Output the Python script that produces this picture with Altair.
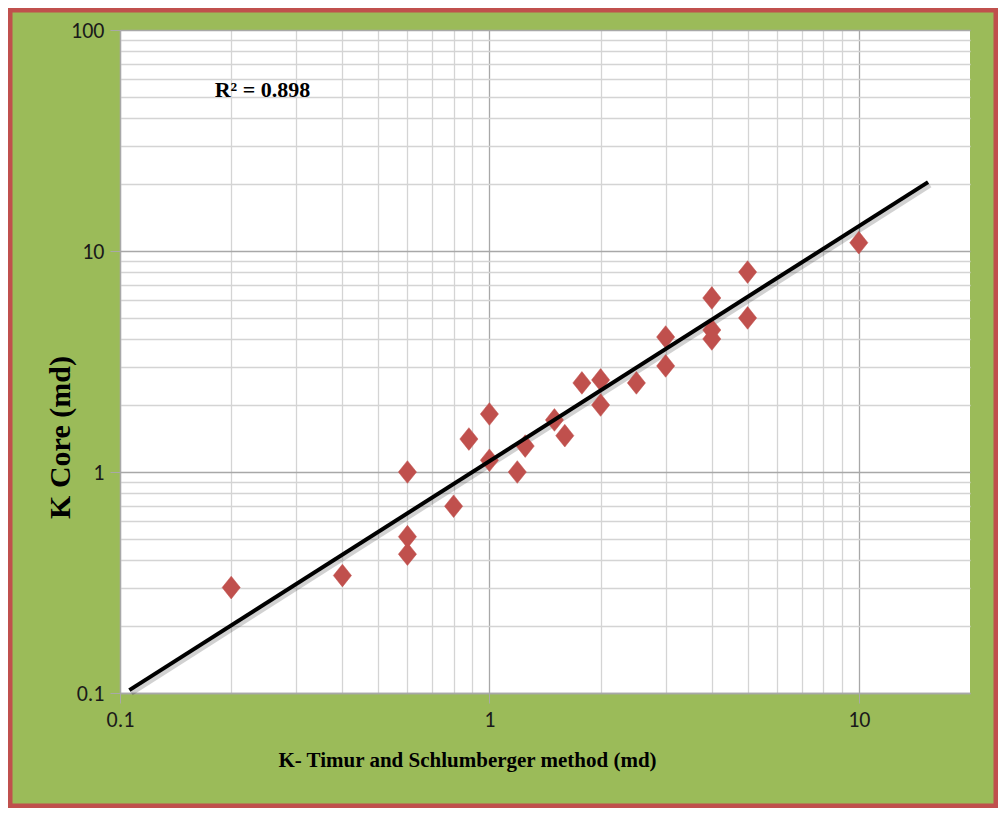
import altair as alt
import pandas as pd

# Data
k_timur = [0.2, 0.4, 0.6, 0.6, 0.6, 0.8, 0.88, 1.0, 1.0, 1.19, 1.25, 1.5, 1.6,
           1.78, 2.0, 2.0, 2.5, 3.0, 3.0, 4.0, 4.0, 4.0, 5.0, 5.0, 10.0]
k_core = [0.30, 0.34, 1.0, 0.51, 0.425, 0.70, 1.41, 1.83, 1.13, 1.0, 1.31, 1.72, 1.46,
          2.53, 2.61, 2.01, 2.53, 4.08, 3.02, 6.13, 4.39, 4.0, 8.03, 4.98, 10.9]

fit_x = [0.106, 15.4]
fit_y = [0.103, 20.5]

x_ticks = [0.1, 0.2, 0.3, 0.4, 0.5, 0.6, 0.7, 0.8, 0.9,
           1, 2, 3, 4, 5, 6, 7, 8, 9, 10]
y_ticks = [0.1, 0.2, 0.3, 0.4, 0.5, 0.6, 0.7, 0.8, 0.9,
           1, 2, 3, 4, 5, 6, 7, 8, 9, 10,
           20, 30, 40, 50, 60, 70, 80, 90, 100]

annot_text = ["R\u00b2 = 0.898"]
annot_x = [0.243]
annot_y = [50]

pts = pd.DataFrame({"x": k_timur, "y": k_core})
fit = pd.DataFrame({"x": fit_x, "y": fit_y})
ann = pd.DataFrame({"x": annot_x, "y": annot_y, "t": annot_text})

W, H = 850, 663
PL, PT, PR, PB = 112, 22, 28, 115

GREEN = "#9BBB59"
RED = "#C0504D"
TICK_FONT = "Carlito, 'Liberation Sans Narrow', Roboto, sans-serif"
TITLE_FONT = "'Liberation Serif', 'Times New Roman', serif"

major = "abs(log(datum.value)/LN10 - round(log(datum.value)/LN10)) < 0.001"

def make_axis(values, title, tx, ty, angle):
    return alt.Axis(
        values=values,
        title=title,
        labelExpr=f"({major}) ? format(datum.value, '~g') : ''",
        labelFont=TICK_FONT,
        labelFontSize=22,
        labelColor="#1a1a1a",
        labelPadding=6,
        labelFlush=False,
        labelOverlap=False,
        gridColor={"condition": {"test": major, "value": "#A8A8A8"}, "value": "#D4D4D4"},
        gridWidth=1.3,
        tickColor="#A8A8A8",
        tickOpacity={"condition": {"test": major, "value": 1}, "value": 0},
        tickSize=10,
        domainColor="#A8A8A8",
        domainWidth=1.3,
        titleFont=TITLE_FONT,
        titleFontWeight="bold",
        titleColor="#000000",
        titleFontSize=21 if angle == 0 else 30,
        titleX=tx,
        titleY=ty,
        titleAngle=angle,
        titleAlign="center",
        titleBaseline="middle",
    )

xscale = alt.Scale(type="log", domain=[0.1, 20], nice=False)
yscale = alt.Scale(type="log", domain=[0.1, 100], nice=False)

xenc = alt.X("x:Q", scale=xscale,
             axis=make_axis(x_ticks, "K- Timur  and Schlumberger  method (md)", 347, 67, 0))
yenc = alt.Y("y:Q", scale=yscale,
             axis=make_axis(y_ticks, "K Core (md)", -60, 407, 270))

frame = alt.Chart(ann).mark_rect(
    fillOpacity=0, stroke=RED, strokeWidth=5
).encode(
    x=alt.value(-PL + 2), x2=alt.value(W + PR - 2),
    y=alt.value(-PT + 2), y2=alt.value(H + PB - 2),
)

shadow = alt.Chart(fit).mark_line(
    color="#000000", opacity=0.18, strokeWidth=5, xOffset=2, yOffset=3
).encode(x=alt.X("x:Q", scale=xscale), y=alt.Y("y:Q", scale=yscale))

line = alt.Chart(fit).mark_line(color="#000000", strokeWidth=4).encode(x=xenc, y=yenc)

points = alt.Chart(pts).mark_point(
    shape="M0,-1.25L1,0L0,1.25L-1,0Z", size=330, filled=True,
    fill=RED, stroke=RED, strokeWidth=0.5, opacity=1
).encode(x=alt.X("x:Q", scale=xscale), y=alt.Y("y:Q", scale=yscale))

text = alt.Chart(ann).mark_text(
    font=TITLE_FONT, fontWeight="bold", fontSize=22, color="#000000",
    align="center", baseline="alphabetic"
).encode(x=alt.X("x:Q", scale=xscale), y=alt.Y("y:Q", scale=yscale), text="t:N")

chart = alt.layer(frame, shadow, points, line, text).properties(
    width=W, height=H,
    background=GREEN,
    padding={"left": PL, "top": PT, "right": PR, "bottom": PB},
    autosize=alt.AutoSizeParams(type="none"),
).configure_view(
    fill="#FFFFFF", stroke=None, strokeWidth=0
)

chart.save("out.html", embed_options={"renderer": "svg", "actions": False})
